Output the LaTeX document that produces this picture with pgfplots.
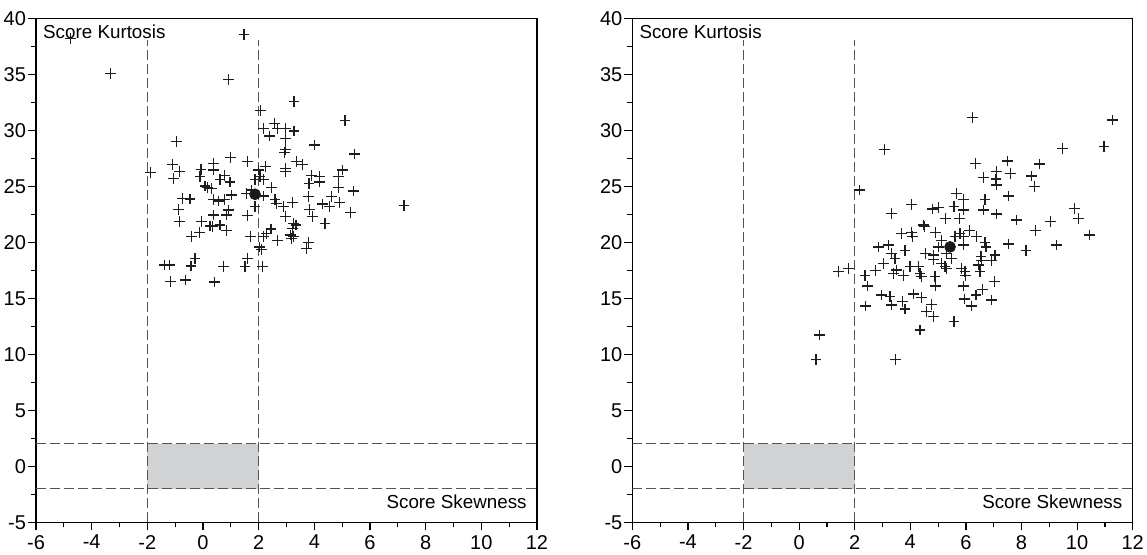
\documentclass[border=0pt]{standalone}
\usepackage{fontspec}
\setmainfont{Liberation Sans}
\usepackage{pgfplots}
\usepackage{pgfplotstable}
\pgfplotsset{compat=1.18}
\definecolor{boxgray}{RGB}{209,210,212}
\definecolor{dashgray}{RGB}{85,85,85}
\definecolor{markcol}{RGB}{30,30,30}

\pgfplotstableread{
x y
-4.75 38.2
-3.31 35.1
1.47 38.55
0.93 34.57
3.27 32.6
2.08 31.8
-1.88 26.26
-0.95 29.05
4.02 28.7
5.10 30.9
2.17 30.2
2.56 30.6
2.67 30.2
2.97 30.2
3.27 29.95
2.38 29.5
2.97 29.3
2.97 28.3
2.92 28.05
5.45 27.9
0.98 27.6
1.59 27.2
-1.09 26.97
0.37 27.06
2.25 26.76
3.37 27.2
3.58 26.97
-0.83 26.37
-0.07 26.5
-0.11 25.9
0.37 26.46
-1.07 25.7
0.77 26.0
0.61 25.6
0.97 25.4
1.99 26.46
2.05 25.87
2.17 25.6
2.97 26.6
2.97 26.37
3.91 26.0
4.18 25.87
5.02 26.46
4.86 25.9
3.81 25.28
4.18 25.4
0.07 25.04
0.17 24.9
0.31 24.8
4.86 24.9
2.47 24.9
5.40 24.6
1.03 24.23
1.57 24.4
1.75 24.68
1.87 25.6
2.17 24.15
3.78 24.1
4.62 24.1
-0.74 23.94
-0.47 23.87
0.37 23.85
0.55 23.7
0.77 23.8
2.59 23.8
2.65 23.5
2.89 23.19
3.21 23.55
4.30 23.43
4.54 23.19
4.90 23.58
7.22 23.3
1.87 23.19
-0.89 22.95
0.91 22.9
0.85 22.45
3.84 22.95
5.31 22.7
3.94 22.3
0.37 22.45
1.59 22.38
2.95 22.3
-0.85 21.85
-0.05 21.85
0.25 21.46
0.35 21.4
0.61 21.55
0.85 21.1
3.25 21.7
3.34 21.55
3.21 21.26
4.38 21.7
-0.13 20.86
-0.41 20.5
1.71 20.5
2.29 20.8
2.44 21.2
2.17 20.5
2.67 20.2
3.13 20.66
3.25 20.5
3.19 20.36
3.78 19.97
3.73 19.47
2.02 19.6
2.11 19.4
-0.29 18.58
1.61 18.58
-1.37 17.98
-1.21 17.98
-0.43 17.9
0.75 17.83
1.51 17.83
2.13 17.83
-1.16 16.5
-0.64 16.64
0.42 16.46
}\leftdata

\pgfplotstableread{
x y
6.24 31.14
11.28 30.93
3.07 28.3
9.48 28.4
10.97 28.6
6.34 27.06
7.49 27.27
8.64 27.0
7.11 26.3
7.59 26.17
7.08 25.66
7.11 25.13
6.63 25.78
8.37 25.93
8.46 24.97
2.17 24.68
7.53 24.14
5.67 24.38
5.91 23.85
6.69 23.85
6.63 22.9
4.05 23.4
4.81 22.98
5.01 23.13
5.57 23.19
5.91 22.9
3.31 22.6
7.11 22.53
9.92 23.04
10.04 22.15
5.27 22.15
5.76 22.15
7.83 22.0
9.03 21.85
4.47 21.55
4.50 21.45
6.12 21.1
8.49 21.05
3.67 20.8
4.05 20.86
4.07 20.5
4.91 20.86
5.79 20.8
5.91 20.5
5.61 20.5
6.39 20.5
6.69 19.97
6.72 19.6
10.46 20.66
5.13 20.2
5.01 19.6
5.91 19.77
7.53 19.86
9.27 19.77
2.87 19.6
3.21 19.77
3.81 19.3
8.16 19.3
3.33 19.02
3.45 18.58
4.56 19.0
4.83 18.87
4.83 18.5
5.31 19.0
6.54 18.72
6.57 18.36
7.05 18.87
6.93 18.36
3.03 18.13
5.13 18.13
5.25 17.83
5.31 17.68
5.49 18.58
1.41 17.38
1.77 17.68
2.37 17.08
2.75 17.47
3.39 17.24
3.51 17.53
3.75 17.08
3.99 17.83
4.29 17.83
4.35 17.24
4.41 16.94
5.85 17.68
5.97 17.38
5.99 17.08
6.45 17.98
6.51 17.38
4.89 16.94
4.92 16.1
5.91 16.1
7.02 16.49
2.47 16.1
6.60 15.8
2.97 15.3
3.27 15.15
4.11 15.4
4.41 15.1
6.36 15.3
5.94 14.94
6.21 14.32
6.93 14.85
2.40 14.32
3.33 14.41
3.73 14.7
3.81 14.05
4.77 14.47
4.59 13.81
4.83 13.36
5.57 12.92
4.35 12.17
0.72 11.73
0.61 9.55
3.47 9.55
}\rightdata

\pgfplotsset{panel/.style={
  scale only axis, width=250.5pt, height=251.9pt,
  xmin=-6, xmax=12, ymin=-5, ymax=40,
  xtick={-6,-4,...,12}, xticklabels={-6,-4,-2,0,2,4,6,8,10,12},
  ytick={-5,0,...,40}, yticklabels={-5,0,5,10,15,20,25,30,35,40},
  minor x tick num=1, minor y tick num=1,
  tick align=outside, tick pos=left,
  major tick length=4pt, minor tick length=2.5pt,
  axis line style={line width=0.7pt},
  every tick/.style={black, line width=0.6pt},
  tick label style={font=\fontsize{10}{12}\selectfont},
  xticklabel style={inner sep=2.2pt},
  yticklabel style={inner sep=0.8pt},
}}
\tikzset{dl/.style={dashgray, line width=0.5pt, dash pattern=on 5pt off 2pt}}

\begin{document}
\begin{tikzpicture}
\useasboundingbox (-18pt,-15.85pt) rectangle (555.5pt,261.15pt);
\begin{axis}[panel, at={(0,0)}, anchor=south west]
  \fill[boxgray] (axis cs:-2,-2) rectangle (axis cs:2,2);
  \draw[dl] (axis cs:-6,2) -- (axis cs:12,2);
  \draw[dl] (axis cs:-6,-2) -- (axis cs:12,-2);
  \draw[dl] (axis cs:-2,-5) -- (axis cs:-2,38.1);
  \draw[dl] (axis cs:2,-5) -- (axis cs:2,38.1);
  \addplot[only marks, mark=+, mark size=2.7pt, markcol, mark options={line width=0.6pt}] table {\leftdata};
  \addplot[only marks, mark=*, mark size=2.7pt, black!90] coordinates {(1.87,24.3)};
  \node[anchor=north west, inner sep=0pt, xshift=3.4pt, yshift=-2.8pt, font=\fontsize{9.4}{11}\selectfont] at (rel axis cs:0,1) {Score Kurtosis};
  \node[anchor=base east, inner sep=0pt, xshift=-5pt, yshift=7pt, font=\fontsize{9.4}{11}\selectfont] at (rel axis cs:1,0) {Score Skewness};
\end{axis}
\begin{axis}[panel, at={(298.15pt,0)}, anchor=south west, width=250.2pt]
  \fill[boxgray] (axis cs:-2,-2) rectangle (axis cs:2,2);
  \draw[dl] (axis cs:-6,2) -- (axis cs:12,2);
  \draw[dl] (axis cs:-6,-2) -- (axis cs:12,-2);
  \draw[dl] (axis cs:-2,-5) -- (axis cs:-2,38.1);
  \draw[dl] (axis cs:2,-5) -- (axis cs:2,38.1);
  \addplot[only marks, mark=+, mark size=2.7pt, markcol, mark options={line width=0.6pt}] table {\rightdata};
  \addplot[only marks, mark=*, mark size=2.7pt, black!90] coordinates {(5.43,19.6)};
  \node[anchor=north west, inner sep=0pt, xshift=3.4pt, yshift=-2.8pt, font=\fontsize{9.4}{11}\selectfont] at (rel axis cs:0,1) {Score Kurtosis};
  \node[anchor=base east, inner sep=0pt, xshift=-5pt, yshift=7pt, font=\fontsize{9.4}{11}\selectfont] at (rel axis cs:1,0) {Score Skewness};
\end{axis}
\end{tikzpicture}
\end{document}
